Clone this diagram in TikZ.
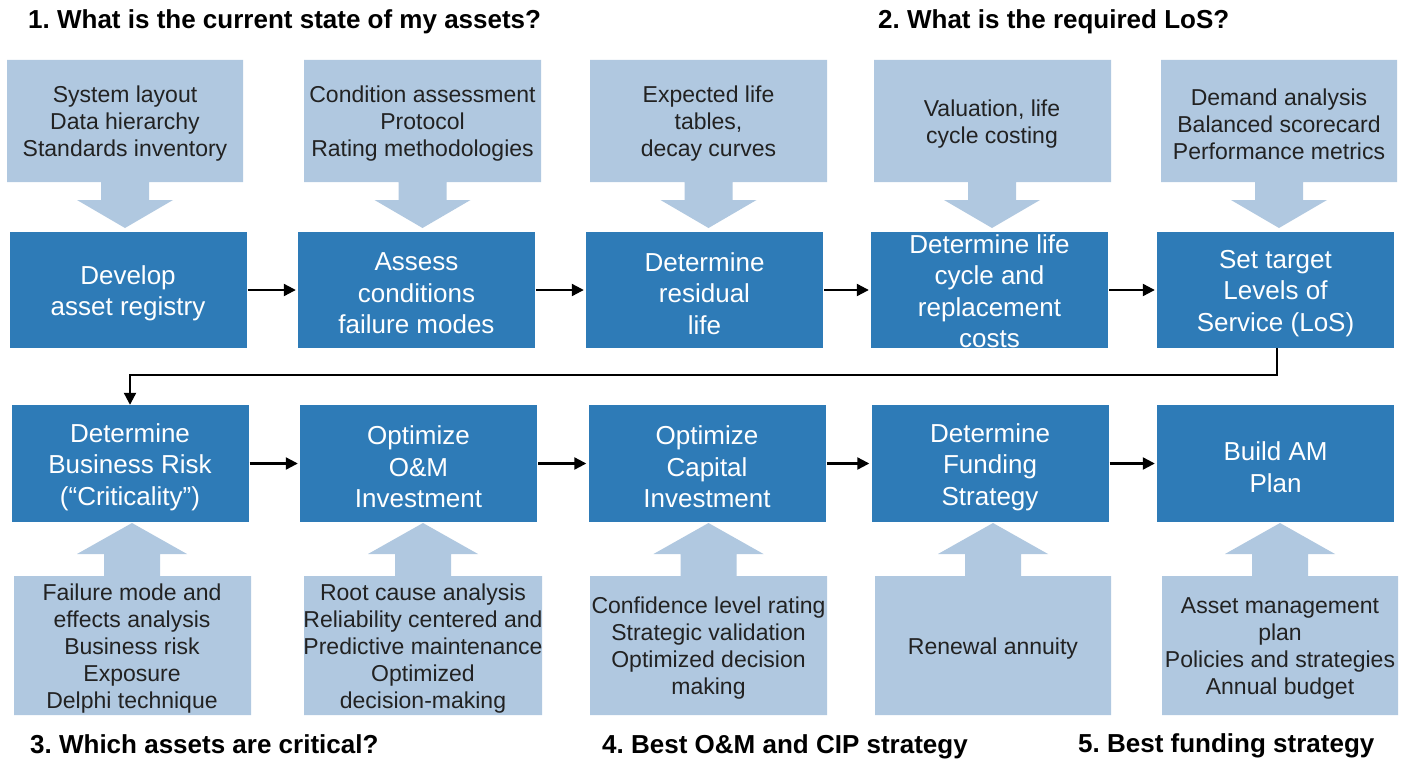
\documentclass[tikz,border=0pt]{standalone}
\usepackage{fontspec}
\setmainfont{Liberation Sans}
\usetikzlibrary{arrows.meta,calc}
\definecolor{darkbox}{HTML}{2E7BB7}
\definecolor{lightbox}{HTML}{B0C8E0}
\definecolor{lighttext}{HTML}{222222}
\tikzset{
  darkstep/.style={fill=darkbox, minimum width=237pt, minimum height=116pt, inner sep=0pt},
  darktxt/.style={text=white, inner sep=0pt, align=center, font=\fontsize{26}{31.5}\selectfont},
  lightshape/.style={fill=lightbox, draw=none},
  lighttxt/.style={text=lighttext, align=center, font=\fontsize{23}{27}\selectfont, inner sep=0pt},
  flow/.style={-{Triangle[length=12pt,width=12pt]}, line width=2.2pt, black, shorten <=1pt, shorten >=2pt},
  heading/.style={font=\fontsize{26}{30}\selectfont\bfseries\frenchspacing, anchor=west, inner sep=0pt, text=black}
}
% top input box with down arrow: #1 name, #2 x1, #3 x2, #4 cx, #5 text
\newcommand\topinput[5]{%
  \fill[lightshape] (#2,60) -- (#3,60) -- (#3,182) -- (#4+24,182) -- (#4+24,200) -- (#4+48,200)
    -- (#4,228) -- (#4-48,200) -- (#4-24,200) -- (#4-24,182) -- (#2,182) -- cycle;
  \node[lighttxt] (#1) at (#4,124) {#5};
}
% bottom input box with up arrow
\newcommand\botinput[5]{%
  \fill[lightshape] (#2,715) -- (#3,715) -- (#3,576) -- (#4+28,576) -- (#4+28,554) -- (#4+55,554)
    -- (#4,523) -- (#4-55,554) -- (#4-28,554) -- (#4-28,576) -- (#2,576) -- cycle;
  \node[lighttxt] (#1) at (#4,648.5) {#5};
}
% process step: [#1 text shift], #2 name, #3 cx, #4 cy, #5 height, #6 text
\newcommand\procstep[6][3.5]{%
  \node[darkstep, minimum height=#5pt] (#2) at (#3,#4) {};
  \node[darktxt] (#2txt) at ($(#2.center)+(0,#1)$) {#6};
}
\begin{document}
\begin{tikzpicture}[x=1pt,y=-1pt]
\useasboundingbox (0,0) rectangle (1404,760);
\fill[white] (0,0) rectangle (1404,760);

% headings
\node[heading] (h1) at (28,22) {1. What is the current state of my assets?};
\node[heading] (h2) at (878,22) {2. What is the required LoS?};
\node[heading] (h3) at (30,744) {3. Which assets are critical?};
\node[heading] (h4) at (602,747) {4. Best O\&M and CIP strategy};
\node[heading] (h5) at (1078,746) {5. Best funding strategy};

% top inputs
\topinput{t1}{7}{243}{125}{System layout\\Data hierarchy\\Standards inventory}
\topinput{t2}{304}{541}{422.5}{Condition assessment\\Protocol\\Rating methodologies}
\topinput{t3}{590}{827}{708.5}{Expected life\\tables,\\decay curves}
\topinput{t4}{874}{1111}{992}{Valuation, life\\cycle costing}
\topinput{t5}{1161}{1397}{1279}{Demand analysis\\Balanced scorecard\\Performance metrics}

% bottom inputs
\botinput{l1}{14}{251}{132}{Failure mode and\\effects analysis\\Business risk\\Exposure\\Delphi technique}
\botinput{l2}{304}{542}{423}{Root cause analysis\\Reliability centered and\\Predictive maintenance\\Optimized\\decision-making}
\botinput{l3}{590}{827}{708.5}{Confidence level rating\\Strategic validation\\Optimized decision\\making}
\botinput{l4}{875}{1111}{993}{Renewal annuity}
\botinput{l5}{1162}{1398}{1280}{Asset management\\plan\\Policies and strategies\\Annual budget}

% row 1 process steps
\procstep{a1}{128}{290}{116}{Develop\\asset registry}
\procstep{a2}{416.5}{290}{116}{Assess\\conditions\\failure modes}
\procstep{a3}{704.5}{290}{116}{Determine\\residual\\life}
\procstep[1]{a4}{989.5}{290}{116}{Determine life\\cycle and\\replacement\\costs}
\procstep{a5}{1275.5}{290}{116}{Set target\\Levels of\\Service (LoS)}

% row 2 process steps
\procstep{b1}{130}{463.5}{117}{Determine\\Business Risk\\(“Criticality”)}
\procstep{b2}{418.5}{463.5}{117}{Optimize\\O\&M\\Investment}
\procstep{b3}{707}{463.5}{117}{Optimize\\Capital\\Investment}
\procstep{b4}{990}{463.5}{117}{Determine\\Funding\\Strategy}
\procstep{b5}{1275.5}{463.5}{117}{Build AM\\Plan}

% connectors
\draw[flow] (a1.east) -- (a2.west);
\draw[flow] (a2.east) -- (a3.west);
\draw[flow] (a3.east) -- (a4.west);
\draw[flow] (a4.east) -- (a5.west);
\draw[flow] (b1.east) -- (b2.west);
\draw[flow] (b2.east) -- (b3.west);
\draw[flow] (b3.east) -- (b4.west);
\draw[flow] (b4.east) -- (b5.west);
\draw[flow, shorten <=0pt, shorten >=0pt] ($(a5.south)+(1.5,0)$) -- ++(0,27) -| (b1.north);
\end{tikzpicture}
\end{document}
